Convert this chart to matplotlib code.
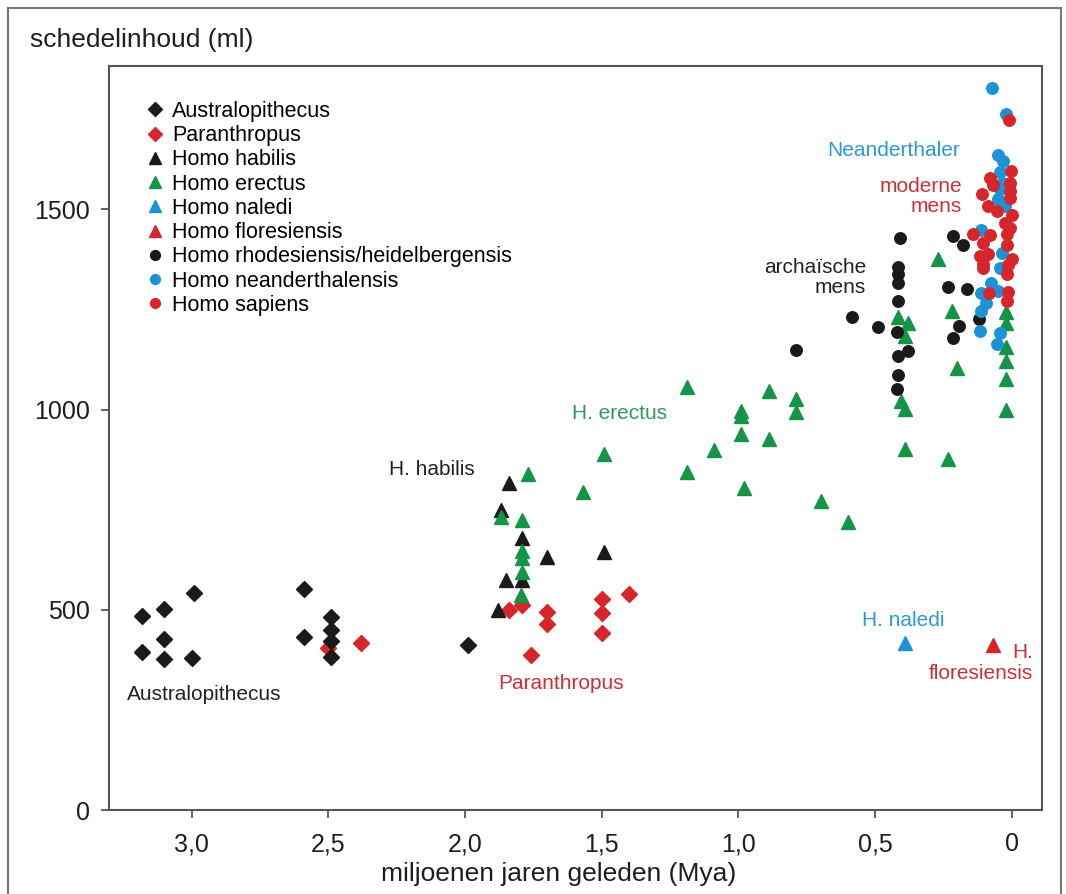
import matplotlib.pyplot as plt
from matplotlib.patches import Rectangle

plt.rcParams["font.family"] = ["Liberation Sans", "DejaVu Sans"]

# ages in million years ago, skull volume in ml
austr_x = [3.18, 3.10, 2.99, 3.10, 3.18, 3.10, 3.00, 2.59, 2.59, 2.49, 2.49, 2.49, 2.49, 1.99]
austr_y = [485, 503, 543, 428, 394, 376, 380, 552, 431, 482, 450, 422, 381, 412]

paran_x = [2.50, 2.38, 1.84, 1.79, 1.70, 1.70, 1.76, 1.50, 1.50, 1.50, 1.40]
paran_y = [404, 418, 500, 512, 494, 464, 388, 526, 491, 441, 539]

habilis_x = [1.84, 1.87, 1.79, 1.70, 1.49, 1.85, 1.79, 1.88]
habilis_y = [816, 748, 680, 632, 644, 575, 575, 500]

erectus_x = [1.77, 1.57, 1.87, 1.79, 1.79, 1.79, 1.79, 1.795, 1.49, 1.19, 1.19,
             1.09, 0.99, 0.99, 0.99, 0.89, 0.89, 0.79, 0.79, 0.98, 0.70, 0.60,
             0.415, 0.38, 0.39, 0.405, 0.39, 0.39, 0.27, 0.22, 0.20, 0.235,
             0.02, 0.02, 0.02, 0.02, 0.02, 0.02]
erectus_y = [839, 794, 731, 723, 648, 630, 594, 538, 889, 1057, 845,
             898, 997, 985, 938, 1046, 926, 1027, 993, 804, 771, 718,
             1230, 1217, 1183, 1022, 1001, 902, 1375, 1245, 1105, 877,
             1243, 1217, 1157, 1122, 1077, 999]

naledi_x = [0.39]
naledi_y = [416]

flores_x = [0.07]
flores_y = [411]

heidel_x = [0.41, 0.415, 0.415, 0.415, 0.415, 0.42, 0.38, 0.415, 0.415, 0.42,
            0.585, 0.49, 0.79, 0.215, 0.18, 0.235, 0.165, 0.195, 0.215, 0.12]
heidel_y = [1428, 1357, 1338, 1317, 1272, 1193, 1147, 1135, 1087, 1052,
            1230, 1205, 1149, 1434, 1410, 1307, 1302, 1209, 1178, 1226]

neander_x = [0.074, 0.022, 0.05, 0.032, 0.044, 0.038, 0.044, 0.052, 0.026, 0.113,
             0.038, 0.044, 0.077, 0.05, 0.113, 0.096, 0.113, 0.117, 0.044, 0.056]
neander_y = [1802, 1737, 1636, 1621, 1594, 1567, 1550, 1525, 1509, 1448,
             1390, 1353, 1315, 1295, 1290, 1265, 1245, 1195, 1190, 1164]

sapiens_x = [0.01, 0.005, 0.08, 0.068, 0.007, 0.007, 0.11, 0.007, 0.086, 0.056,
             -0.002, 0.026, 0.007, 0.019, 0.143, 0.08, 0.105, 0.019, 0.117, 0.086,
             0.001, 0.107, 0.013, 0.105, 0.019, 0.083, 0.013, 0.017]
sapiens_y = [1722, 1596, 1578, 1562, 1567, 1546, 1538, 1529, 1509, 1496,
             1486, 1467, 1454, 1438, 1438, 1435, 1417, 1411, 1384, 1389,
             1375, 1363, 1362, 1353, 1339, 1290, 1293, 1270]

black = "#1a1a1a"
red = "#d7262b"
green = "#139447"
blue = "#1b93d6"

fig = plt.figure(figsize=(10.66, 8.94), dpi=100)
ax = fig.add_axes([109 / 1066, 84 / 894, 933 / 1066, 744 / 894])

# outer frame round the whole picture
fig.patches.append(Rectangle((8 / 1066, -0.01), 1053 / 1066, 1 - 8 / 894 + 0.01,
                             transform=fig.transFigure, fill=False,
                             edgecolor="#777777", lw=1.5))

ax.plot(paran_x, paran_y, "D", ms=8.2, color=red, label="Paranthropus", zorder=2)
ax.plot(austr_x, austr_y, "D", ms=8.2, color=black, label="Australopithecus", zorder=3)
ax.plot(habilis_x, habilis_y, "^", ms=10.5, color=black, label="Homo habilis", zorder=3)
ax.plot(erectus_x, erectus_y, "^", ms=10.5, color=green, label="Homo erectus", zorder=4)
ax.plot(naledi_x, naledi_y, "^", ms=10.5, color=blue, label="Homo naledi", zorder=4)
ax.plot(flores_x, flores_y, "^", ms=10.5, color=red, label="Homo floresiensis", zorder=4)
ax.plot(heidel_x, heidel_y, "o", ms=8.3, color=black,
        label="Homo rhodesiensis/heidelbergensis", zorder=5)
ax.plot(neander_x, neander_y, "o", ms=8.3, color=blue, label="Homo neanderthalensis", zorder=5)
ax.plot(sapiens_x, sapiens_y, "o", ms=8.3, color=red, label="Homo sapiens", zorder=6)

h, l = ax.get_legend_handles_labels()
order = [1, 0, 2, 3, 4, 5, 6, 7, 8]
ax.legend([h[i] for i in order], [l[i] for i in order], loc="upper left",
          bbox_to_anchor=(0.040, 0.953), frameon=False, fontsize=15.5,
          handlelength=0.8, handletextpad=0.4, labelspacing=0.15,
          borderpad=0, borderaxespad=0, markerscale=0.85)

ax.set_xlim(3.302, -0.11)
ax.set_ylim(0, 1858)
ax.set_xticks([3.0, 2.5, 2.0, 1.5, 1.0, 0.5, 0])
ax.set_xticklabels(["3,0", "2,5", "2,0", "1,5", "1,0", "0,5", "0"])
ax.set_yticks([0, 500, 1000, 1500])

for s in ax.spines.values():
    s.set_color("#555555")
    s.set_linewidth(1.5)
ax.tick_params(direction="out", length=6, width=1.3, color="#555555",
               labelsize=18, labelcolor="#1e1e1e")
ax.tick_params(axis="x", pad=10)
ax.tick_params(axis="y", pad=8)

fig.text(30 / 1066, 1 - 40 / 894, "schedelinhoud (ml)", fontsize=19,
         color="#1e1e1e", ha="left", va="center")
fig.text(559 / 1066, 1 - 874 / 894, "miljoenen jaren geleden (Mya)", fontsize=19,
         color="#1e1e1e", ha="center", va="center")

# group names inside the plot
fs = 15
ax.text(0.19, 1648, "Neanderthaler", color="#2a9ad8", fontsize=fs, ha="right", va="center")
ax.text(0.182, 1532, "moderne\nmens", color="#cf2f35", fontsize=fs, ha="right",
        va="center", multialignment="right", linespacing=1.1)
ax.text(0.533, 1330, "archaïsche\nmens", color="#222222", fontsize=fs, ha="right",
        va="center", multialignment="right", linespacing=1.1)
ax.text(1.61, 990, "H. erectus", color="#2f9a5c", fontsize=fs, ha="left", va="center")
ax.text(2.277, 850, "H. habilis", color="#222222", fontsize=fs, ha="left", va="center")
ax.text(3.237, 289, "Australopithecus", color="#222222", fontsize=fs, ha="left", va="center")
ax.text(1.88, 317, "Paranthropus", color="#cf2f35", fontsize=fs, ha="left", va="center")
ax.text(0.547, 474, "H. naledi", color="#2a9ad8", fontsize=fs, ha="left", va="center")
ax.text(-0.077, 367, "H.\nfloresiensis", color="#cf2f35", fontsize=fs, ha="right",
        va="center", multialignment="right", linespacing=1.1)

fig.savefig("out.png", dpi=100)
